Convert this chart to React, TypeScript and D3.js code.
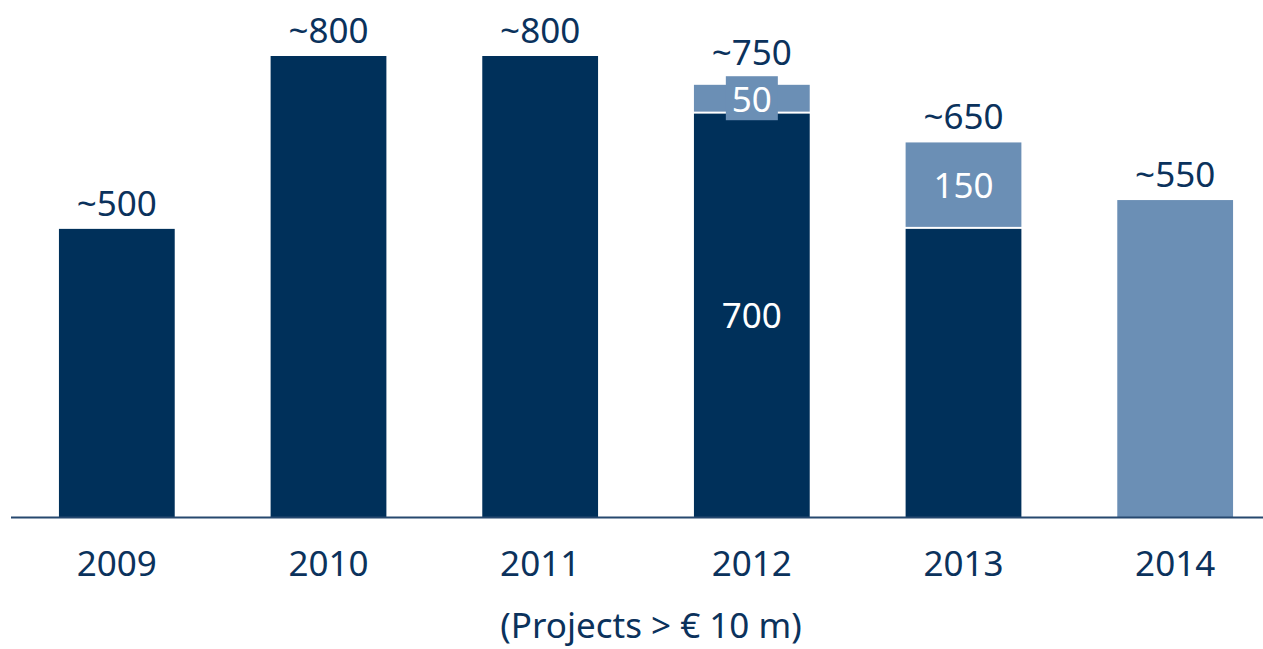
import { useEffect, useRef } from 'react';
import * as d3 from 'd3';

const years = ['2009', '2010', '2011', '2012', '2013', '2014'];
const baseValues = [500, 800, 800, 700, 500, 0];
const extraValues = [0, 0, 0, 50, 150, 550];
const totalLabels = ['~500', '~800', '~800', '~750', '~650', '~550'];
const baseInnerLabels = ['', '', '', '700', '', ''];
const extraInnerLabels = ['', '', '', '50', '150', ''];
const footnote = '(Projects > € 10 m)';

const DARK = '#00305a';
const LIGHT = '#6b8fb5';
const TEXT = '#0b325c';
const FONT = '"Noto Sans", "Liberation Sans", sans-serif';

export default function App() {
  const svgRef = useRef<SVGSVGElement>(null);

  useEffect(() => {
    if (!svgRef.current) return;
    document.body.style.margin = '0';
    const width = 1263;
    const height = 649;
    const baseline = 517;

    const svg = d3.select(svgRef.current);
    svg.selectAll('*').remove();
    svg.attr('width', width).attr('height', height);

    // band scale: step ~212, bars ~116 wide
    const x = d3.scaleBand<string>()
      .domain(years)
      .range([11, 1281])
      .paddingInner(0.453)
      .paddingOuter(0.2265);

    const y = d3.scaleLinear().domain([0, 800]).range([baseline, 56]);

    const g = svg.append('g');
    const gap = 2;

    years.forEach((yr, i) => {
      const x0 = x(yr)!;
      const w = x.bandwidth();
      const cx = x0 + w / 2;
      const base = baseValues[i];
      const extra = extraValues[i];

      // dark base segment
      if (base > 0) {
        g.append('rect')
          .attr('x', x0)
          .attr('y', y(base))
          .attr('width', w)
          .attr('height', y(0) - y(base))
          .attr('fill', DARK);
        if (baseInnerLabels[i]) {
          g.append('text')
            .attr('x', cx)
            .attr('y', (y(base) + y(0)) / 2)
            .attr('dy', '0.36em')
            .attr('text-anchor', 'middle')
            .attr('fill', '#fff')
            .style('font-family', FONT)
            .style('font-size', '35px')
            .text(baseInnerLabels[i]);
        }
      }

      let labelTop = y(base + extra);

      // light segment on top
      if (extra > 0) {
        const top = y(base + extra);
        const bottom = base > 0 ? y(base) - gap : y(0);
        g.append('rect')
          .attr('x', x0)
          .attr('y', top)
          .attr('width', w)
          .attr('height', bottom - top)
          .attr('fill', LIGHT);

        if (extraInnerLabels[i]) {
          const mid = (top + bottom) / 2;
          const boxH = 44;
          if (bottom - top < boxH) {
            // label box spills over a thin segment
            const boxW = 52;
            g.append('rect')
              .attr('x', cx - boxW / 2)
              .attr('y', mid - boxH / 2)
              .attr('width', boxW)
              .attr('height', boxH)
              .attr('fill', LIGHT);
            labelTop = Math.min(labelTop, mid - boxH / 2 + 2);
          }
          g.append('text')
            .attr('x', cx)
            .attr('y', mid)
            .attr('dy', '0.38em')
            .attr('text-anchor', 'middle')
            .attr('fill', '#fff')
            .style('font-family', FONT)
            .style('font-size', '35px')
            .text(extraInnerLabels[i]);
        }
      }

      // total label above
      g.append('text')
        .attr('x', cx)
        .attr('y', labelTop - 13)
        .attr('text-anchor', 'middle')
        .attr('fill', TEXT)
        .style('font-family', FONT)
        .style('font-size', '35px')
        .text(totalLabels[i]);

      // category label
      g.append('text')
        .attr('x', cx)
        .attr('y', 576)
        .attr('text-anchor', 'middle')
        .attr('fill', TEXT)
        .style('font-family', FONT)
        .style('font-size', '35px')
        .text(yr);
    });

    // axis line
    svg.append('line')
      .attr('x1', 11)
      .attr('x2', width)
      .attr('y1', baseline + 0.5)
      .attr('y2', baseline + 0.5)
      .attr('stroke', '#26486f')
      .attr('stroke-width', 2);

    svg.append('text')
      .attr('x', 651)
      .attr('y', 638)
      .attr('text-anchor', 'middle')
      .attr('fill', TEXT)
      .style('font-family', FONT)
      .style('font-size', '35px')
      .text(footnote);
  }, []);

  return <svg ref={svgRef} style={{ display: 'block' }} />;
}
